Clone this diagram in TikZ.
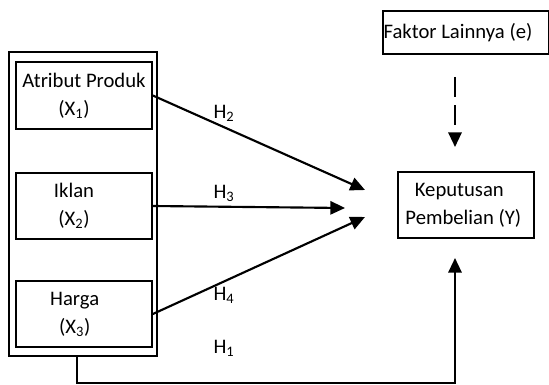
\documentclass[tikz,border=0pt]{standalone}
\usepackage{fontspec}
\setmainfont{Carlito}
\usetikzlibrary{arrows.meta}
\tikzset{
  kotak/.style={draw, line width=1.3pt, align=center, inner sep=0pt, font=\fontsize{15.5}{21}\selectfont},
  panah/.style={line width=1.6pt, -{Triangle[length=11pt,width=10pt]}},
  hlabel/.style={font=\fontsize{15.5}{17}\selectfont}
}
\begin{document}
\begin{tikzpicture}[x=0.75pt,y=-0.75pt]
    \useasboundingbox (0,0) rectangle (549,385);
    \draw[line width=1.3pt] (9,52) rectangle (157,356);  % Rahmen Variabel X
    \node[kotak, minimum width=102pt, minimum height=50pt] (x1) at (84,95.5) {Atribut Produk\\\hspace*{-15pt}(X\textsubscript{1})};
    \node[kotak, minimum width=102pt, minimum height=49.5pt] (x2) at (84,206) {\hspace*{-15pt}Iklan\\\hspace*{-15pt}(X\textsubscript{2})};
    \node[kotak, minimum width=102pt, minimum height=49.5pt] (x3) at (84,314) {\hspace*{-14pt}Harga\\\hspace*{-14pt}(X\textsubscript{3})};
    \node[kotak, minimum width=102pt, minimum height=49.5pt] (y) at (466,205) {\hspace*{-10pt}Keputusan\\\hspace*{-4pt}Pembelian (Y)};
    \node[kotak, minimum width=124.5pt, minimum height=32.25pt] (e) at (466,32.5) {\hspace*{-12pt}Faktor Lainnya (e)};

    \coordinate (t1) at (365,190);
    \coordinate (t2) at (345,208);
    \coordinate (t3) at (365,217);
    \coordinate (e1) at (455,77);
    \coordinate (e2) at (455,147);
    \coordinate (b1) at (77,356);
    \coordinate (b2) at (455,258);

    \draw[panah] (x1.east) -- (t1);
    \draw[panah] (x2.east) -- (t2);
    \draw[panah] (x3.east) -- (t3);
    \draw[panah, dash pattern=on 15pt off 6pt] (e1) -- (e2);
    \draw[panah] (b1) -- (77,383) -- (455,383) -- (b2);

    \node[hlabel] (h2) at (224,113) {H\textsubscript{2}};
    \node[hlabel] (h3) at (224,193) {H\textsubscript{3}};
    \node[hlabel] (h4) at (224,295) {H\textsubscript{4}};
    \node[hlabel] (h1) at (224,348) {H\textsubscript{1}};
\end{tikzpicture}
\end{document}
